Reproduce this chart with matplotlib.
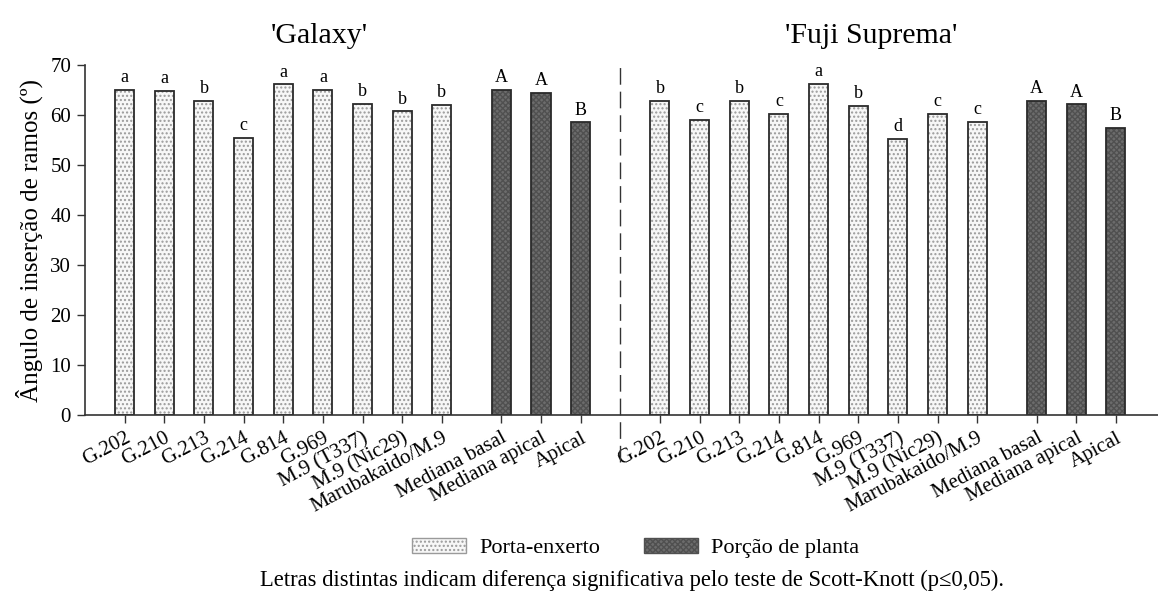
import matplotlib
matplotlib.use("Agg")
import matplotlib.pyplot as plt
from matplotlib.patches import Patch
import numpy as np

plt.rcParams["font.family"] = ["Liberation Serif", "DejaVu Serif"]
plt.rcParams["hatch.linewidth"] = 1.0

# data
rootstocks = ["G.202", "G.210", "G.213", "G.214", "G.814", "G.969",
              "M.9 (T337)", "M.9 (Nic29)", "Marubakaido/M.9"]
portions = ["Mediana basal", "Mediana apical", "Apical"]

galaxy_root = [65.1, 64.9, 62.9, 55.5, 66.2, 65.1, 62.3, 60.8, 62.1]
galaxy_root_let = ["a", "a", "b", "c", "a", "a", "b", "b", "b"]
galaxy_port = [65.1, 64.5, 58.6]
galaxy_port_let = ["A", "A", "B"]

fuji_root = [62.9, 59.1, 62.9, 60.3, 66.3, 61.9, 55.3, 60.3, 58.7]
fuji_root_let = ["b", "c", "b", "c", "a", "b", "d", "c", "c"]
fuji_port = [62.9, 62.2, 57.5]
fuji_port_let = ["A", "A", "B"]

fig = plt.figure(figsize=(11.58, 6.01), dpi=100)
ax = fig.add_axes([0.0734, 0.3095, 0.9266, 0.5823])

light = "#f7f7f7"
dark = "#6c6c6c"
edge = "#2a2a2a"
w = 0.48


def draw(xpos, vals, letters, face, hatch, hcol):
    # hatch layer first, then the outline on top
    ax.bar(xpos, vals, w, color=face, hatch=hatch, edgecolor=hcol, linewidth=0)
    ax.bar(xpos, vals, w, fill=False, edgecolor=edge, linewidth=1.3)
    for x, v, t in zip(xpos, vals, letters):
        ax.text(x, v + 0.7, t, ha="center", va="bottom", fontsize=13)


x_root = np.arange(len(rootstocks), dtype=float)
x_port = len(rootstocks) + 0.5 + np.arange(len(portions))
offset = 13.5

draw(x_root, galaxy_root, galaxy_root_let, light, "....", "#9a9a9a")
draw(x_port, galaxy_port, galaxy_port_let, dark, "xxxxxx", "#505050")
draw(x_root + offset, fuji_root, fuji_root_let, light, "....", "#9a9a9a")
draw(x_port + offset, fuji_port, fuji_port_let, dark, "xxxxxx", "#505050")

ax.plot([12.5, 12.5], [-9.4, 69.6], color="#333333", lw=1.0,
        dashes=(12, 5), clip_on=False)

ticks = list(x_root) + list(x_port) + list(x_root + offset) + list(x_port + offset)
labels = rootstocks + portions + rootstocks + portions
ax.set_xticks(ticks)
ax.set_xticklabels(labels, rotation=28, ha="right", rotation_mode="anchor", fontsize=15)
ax.tick_params(axis="x", length=6, width=1, color="#333333", pad=4)
ax.tick_params(axis="y", length=6, width=1, color="#333333", labelsize=15, pad=4)

ax.set_xlim(-1, 26.06)
ax.set_ylim(0, 70)
ax.set_yticks(range(0, 71, 10))
ax.set_ylabel("Ângulo de inserção de ramos (º)", fontsize=18, labelpad=5)
for s in ["top", "right"]:
    ax.spines[s].set_visible(False)
for s in ["left", "bottom"]:
    ax.spines[s].set_linewidth(1.2)
    ax.spines[s].set_color("#333333")

fig.text(0.276, 0.94, "'Galaxy'", ha="center", va="center", fontsize=21.5)
fig.text(0.752, 0.94, "'Fuji Suprema'", ha="center", va="center", fontsize=21.5)

handles = [Patch(facecolor=light, edgecolor="#9a9a9a", hatch="....", label="Porta-enxerto"),
           Patch(facecolor=dark, edgecolor="#505050", hatch="xxxxxx", label="Porção de planta")]
fig.legend(handles=handles, loc="center", bbox_to_anchor=(0.549, 0.088), ncol=2,
           frameon=False, fontsize=16, handlelength=2.4, handleheight=0.65,
           columnspacing=2.0, handletextpad=0.6)

fig.text(0.546, 0.035, "Letras distintas indicam diferença significativa pelo teste de Scott-Knott (p≤0,05).",
         ha="center", va="center", fontsize=16.3)

fig.savefig("out.png", dpi=100)
